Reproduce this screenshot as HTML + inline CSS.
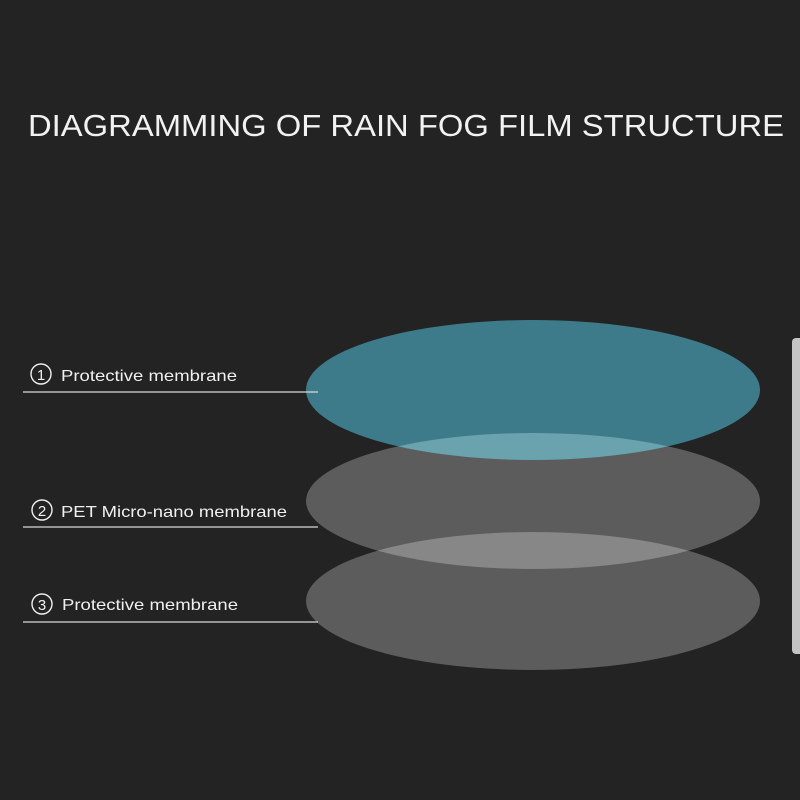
<!DOCTYPE html>
<html><head><style>
body{margin:0;background:#232323;}
</style></head><body>
<svg width="800" height="800" xmlns="http://www.w3.org/2000/svg" style="display:block">
<rect width="800" height="800" fill="#232323"/>
<defs>
<clipPath id="cTop"><ellipse cx="533" cy="390" rx="227" ry="70"/></clipPath>
<clipPath id="cMid"><ellipse cx="533" cy="501" rx="227" ry="68"/></clipPath>
</defs>
<text x="406" y="136" text-anchor="middle" font-family="Liberation Sans, sans-serif" font-size="31" fill="#f2f2f2" textLength="756" lengthAdjust="spacingAndGlyphs">DIAGRAMMING OF RAIN FOG FILM  STRUCTURE</text>
<ellipse cx="533" cy="601" rx="227" ry="69" fill="#5c5c5c"/>
<ellipse cx="533" cy="501" rx="227" ry="68" fill="#5c5c5c"/>
<ellipse cx="533" cy="601" rx="227" ry="69" fill="#878787" clip-path="url(#cMid)"/>
<ellipse cx="533" cy="390" rx="227" ry="70" fill="#3d7b8a"/>
<ellipse cx="533" cy="501" rx="227" ry="68" fill="#6aa2ad" clip-path="url(#cTop)"/>
<g stroke="#d8d8d8" stroke-width="1.3">
<line x1="23" y1="392" x2="318" y2="392"/>
<line x1="23" y1="527" x2="318" y2="527"/>
<line x1="23" y1="622" x2="318" y2="622"/>
</g>
<g font-family="Liberation Sans, DejaVu Sans, sans-serif" fill="#f0f0f0" font-size="16" lengthAdjust="spacingAndGlyphs">
<circle cx="41" cy="374" r="10" fill="none" stroke="#f0f0f0" stroke-width="1.4"/><text x="41" y="380" text-anchor="middle" font-size="15">1</text>
<text x="61" y="381" textLength="176" lengthAdjust="spacingAndGlyphs">Protective membrane</text>
<circle cx="42" cy="510" r="10" fill="none" stroke="#f0f0f0" stroke-width="1.4"/><text x="42" y="516" text-anchor="middle" font-size="15">2</text>
<text x="61" y="517" textLength="226" lengthAdjust="spacingAndGlyphs">PET Micro-nano membrane</text>
<circle cx="42" cy="604" r="10" fill="none" stroke="#f0f0f0" stroke-width="1.4"/><text x="42" y="610" text-anchor="middle" font-size="15">3</text>
<text x="62" y="610" textLength="176" lengthAdjust="spacingAndGlyphs">Protective membrane</text>
</g>
<rect x="792" y="338" width="14" height="316" rx="4" fill="#c4c4c4"/>
</svg>
</body></html>
